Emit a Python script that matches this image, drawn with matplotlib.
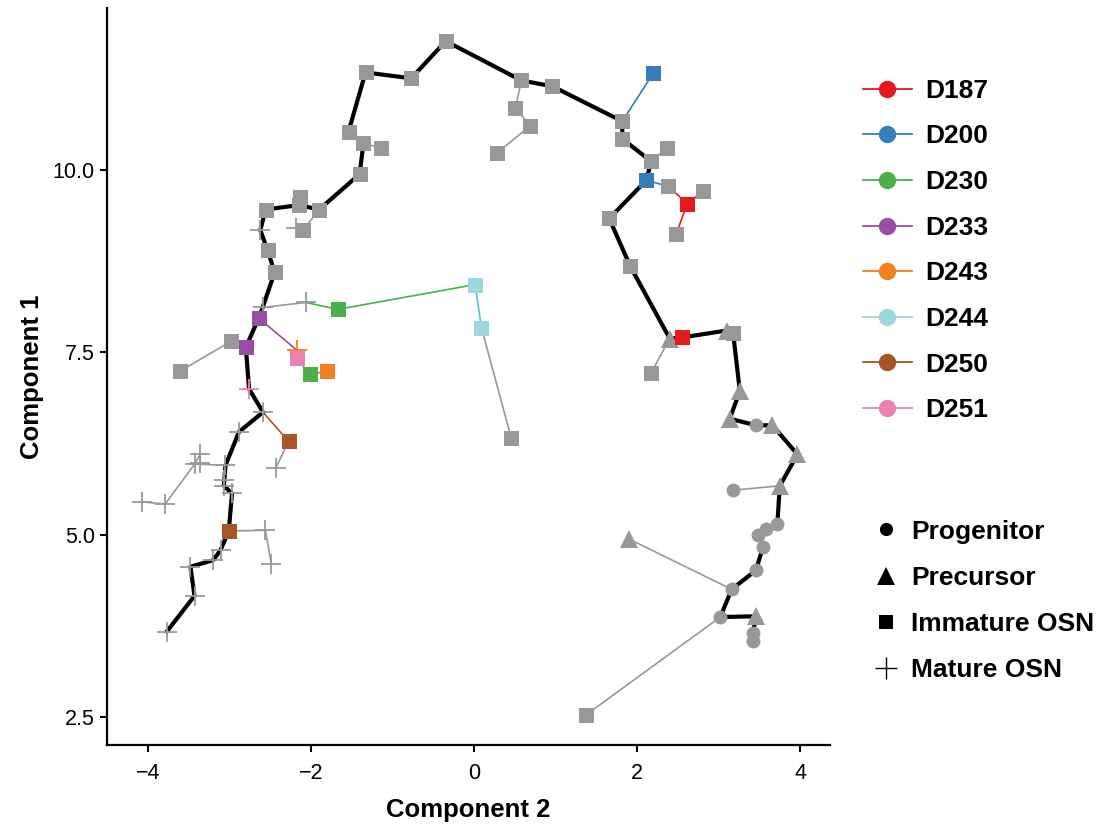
import matplotlib
matplotlib.use("Agg")
import matplotlib.pyplot as plt
from matplotlib.lines import Line2D

plt.rcParams['font.family'] = ['Liberation Sans', 'DejaVu Sans']

# ---------------- data ----------------
# stage codes: P = Progenitor, R = Precursor, I = Immature OSN, M = Mature OSN
# donor: '' = none (gray)
main_x = [3.42, 3.42, 3.46, 3.02, 3.16, 3.456, 3.545, 3.485, 3.587, 3.72,
          3.75, 3.967, 3.66, 3.46, 3.137, 3.26, 3.178, 3.097, 2.553, 2.40,
          1.916, 1.658, 2.112, 2.173, 1.818, 1.818, 0.96, 0.58, -0.347, -0.772,
          -1.332, -1.540, -1.357, -1.405, -1.90, -2.153, -2.557, -2.623, -2.533, -2.447,
          -2.594, -2.643, -2.80, -2.761, -2.59, -2.884, -3.05, -3.064, -3.07, -2.97,
          -3.01, -3.11, -3.20, -3.48, -3.43, -3.77]
main_y = [3.54, 3.65, 3.88, 3.87, 4.25, 4.51, 4.83, 5.00, 5.08, 5.14,
          5.67, 6.10, 6.50, 6.50, 6.59, 6.97, 7.76, 7.80, 7.705, 7.69,
          8.68, 9.337, 9.86, 10.12, 10.43, 10.67, 11.15, 11.23, 11.77, 11.26,
          11.34, 10.53, 10.37, 9.945, 9.46, 9.52, 9.46, 9.177, 8.90, 8.597,
          8.117, 7.97, 7.57, 7.00, 6.68, 6.41, 5.95, 5.75, 5.67, 5.565,
          5.05, 4.79, 4.65, 4.56, 4.16, 3.67]
main_stage = ['P', 'P', 'R', 'P', 'P', 'P', 'P', 'P', 'P', 'P',
              'R', 'R', 'R', 'P', 'R', 'R', 'I', 'R', 'I', 'R',
              'I', 'I', 'I', 'I', 'I', 'I', 'I', 'I', 'I', 'I',
              'I', 'I', 'I', 'I', 'I', 'I', 'I', 'M', 'I', 'I',
              'M', 'I', 'I', 'M', 'M', 'M', 'M', 'M', 'M', 'M',
              'I', 'M', 'M', 'M', 'M', 'M']
main_donor = ['', '', '', '', '', '', '', '', '', '',
              '', '', '', '', '', '', '', '', 'D187', '',
              '', '', 'D200', '', '', '', '', '', '', '',
              '', '', '', '', '', '', '', '', '', '',
              '', 'D233', 'D233', 'D251', '', '', '', '', '', '',
              'D250', '', '', '', '', '']

# side branches: node coordinates, parent index (into main + branch list), edge colour key
branch_x = [1.376, 1.90, 3.178, 2.173, 2.369, 2.381, 2.614, 2.81, 2.479, 2.198,
            0.506, 0.69, 0.286, -1.136, -2.132, -2.099, -2.19, -2.063, -1.675, 0.012,
            0.09, 0.457, -2.986, -3.61, -2.173, -2.173, -2.018, -1.80, -2.276, -2.43,
            -3.427, -3.358, -3.358, -3.79, -4.08, -2.56, -2.488]
branch_y = [2.53, 4.94, 5.61, 7.22, 10.31, 9.78, 9.54, 9.71, 9.12, 11.33,
            10.85, 10.61, 10.24, 10.30, 9.634, 9.177, 9.21, 8.185, 8.09, 8.43,
            7.84, 6.32, 7.65, 7.24, 7.53, 7.42, 7.20, 7.24, 6.28, 5.92,
            5.97, 6.11, 5.98, 5.42, 5.45, 5.06, 4.60]
branch_stage = ['I', 'R', 'P', 'I', 'I', 'I', 'I', 'I', 'I', 'I',
                'I', 'I', 'I', 'I', 'I', 'I', 'M', 'M', 'I', 'I',
                'I', 'I', 'I', 'I', 'M', 'I', 'I', 'I', 'I', 'M',
                'M', 'M', 'M', 'M', 'M', 'M', 'M']
branch_donor = ['', '', '', '', '', '', 'D187', '', '', 'D200',
                '', '', '', '', '', '', '', '', 'D230', 'D244',
                'D244', '', '', '', 'D243', 'D251', 'D230', 'D243', 'D250', '',
                '', '', '', '', '', '', '']
branch_parent = [3, 4, 10, 19, 23, 22, 61, 62, 62, 25,
                 27, 66, 67, 32, 35, 34, 71, 40, 73, 74,
                 75, 76, 42, 78, 41, 80, 81, 82, 44, 84,
                 46, 86, 86, 86, 89, 50, 91]
branch_edge = ['', '', '', '', '', 'D200', 'D187', 'D187', 'D187', 'D200',
               '', '', '', '', '', '', '', '', 'D230', 'D230',
               'D244e', '', '', '', 'D233', 'D251', 'D230', 'D230', 'D250', '',
               '', '', '', '', '', '', '']

donors = ['D187', 'D200', 'D230', 'D233', 'D243', 'D244', 'D250', 'D251']
donor_colors = {'': '#989898', 'D187': '#E41A1C', 'D200': '#377EB8', 'D230': '#4DAF4A',
                'D233': '#984EA3', 'D243': '#F47F20', 'D244': '#9DD6DC',
                'D244e': '#4FC1D9', 'D250': '#A65628', 'D251': '#EA82B2'}
stages = ['P', 'R', 'I', 'M']
stage_names = ['Progenitor', 'Precursor', 'Immature OSN', 'Mature OSN']
stage_marker = {'P': 'o', 'R': '^', 'I': 's', 'M': '+'}
stage_size = {'P': 10, 'R': 12.5, 'I': 10.8, 'M': 15}

# ---------------- figure ----------------
fig = plt.figure(figsize=(11.06, 8.30), dpi=100)
ax = fig.add_axes([0.097, 0.102, 0.653, 0.888])

all_x = main_x + branch_x
all_y = main_y + branch_y
all_stage = main_stage + branch_stage
all_donor = main_donor + branch_donor
nmain = len(main_x)

# branch edges
for k, p in enumerate(branch_parent):
    c = nmain + k
    ax.plot([all_x[p], all_x[c]], [all_y[p], all_y[c]], color=donor_colors[branch_edge[k]],
            lw=1.2, zorder=1, solid_capstyle='butt')

# main trajectory
ax.plot(main_x, main_y, color='black', lw=3.0, zorder=2, solid_joinstyle='round')

# markers: gray first then coloured
for dn in [''] + donors:
    for st in stages:
        xs = [all_x[i] for i in range(len(all_x)) if all_stage[i] == st and all_donor[i] == dn]
        ys = [all_y[i] for i in range(len(all_y)) if all_stage[i] == st and all_donor[i] == dn]
        if not xs:
            continue
        mew = 1.3 if st == 'M' else 0
        ax.plot(xs, ys, linestyle='none', marker=stage_marker[st], ms=stage_size[st],
                color=donor_colors[dn], mew=mew, zorder=3 if dn == '' else 4)

ax.set_xlim(-4.5, 4.36)
ax.set_ylim(2.11, 12.22)
ax.set_xticks([-4, -2, 0, 2, 4])
ax.set_xticklabels(['\u22124', '\u22122', '0', '2', '4'])
ax.set_yticks([2.5, 5.0, 7.5, 10.0])
ax.set_yticklabels(['2.5', '5.0', '7.5', '10.0'])
for s in ['top', 'right']:
    ax.spines[s].set_visible(False)
for s in ['left', 'bottom']:
    ax.spines[s].set_linewidth(1.6)
ax.tick_params(axis='x', direction='out', length=5, width=1.5, labelsize=15.5, pad=8)
ax.tick_params(axis='y', direction='out', length=5, width=1.5, labelsize=15.5, pad=4)
ax.set_xlabel('Component 2', fontsize=18.5, fontweight='bold', labelpad=10)
ax.set_ylabel('Component 1', fontsize=18.5, fontweight='bold', labelpad=6)

# donor legend
h1 = [Line2D([0], [0], color=donor_colors[d], lw=1.3, marker='o', ms=11.5,
             markerfacecolor=donor_colors[d], markeredgecolor=donor_colors[d]) for d in donors]
leg1 = fig.legend(h1, donors, loc='upper left', bbox_to_anchor=(0.780, 0.905),
                  frameon=False, borderpad=0, borderaxespad=0, handlelength=1.86,
                  handletextpad=0.5, labelspacing=0.82, prop={'size': 19, 'weight': 'bold'})

# stage legend
h2 = [Line2D([0], [0], color='black', linestyle='none', marker=stage_marker[s],
             ms={'P': 9.5, 'R': 13, 'I': 10.5, 'M': 16}[s], mew=(1.0 if s == 'M' else 0))
      for s in stages]
leg2 = fig.legend(h2, stage_names, loc='upper left', bbox_to_anchor=(0.789, 0.374),
                  frameon=False, borderpad=0, borderaxespad=0, handlelength=1.0,
                  handletextpad=0.45, labelspacing=0.84, prop={'size': 19, 'weight': 'bold'})

fig.savefig('out.png', dpi=100)
